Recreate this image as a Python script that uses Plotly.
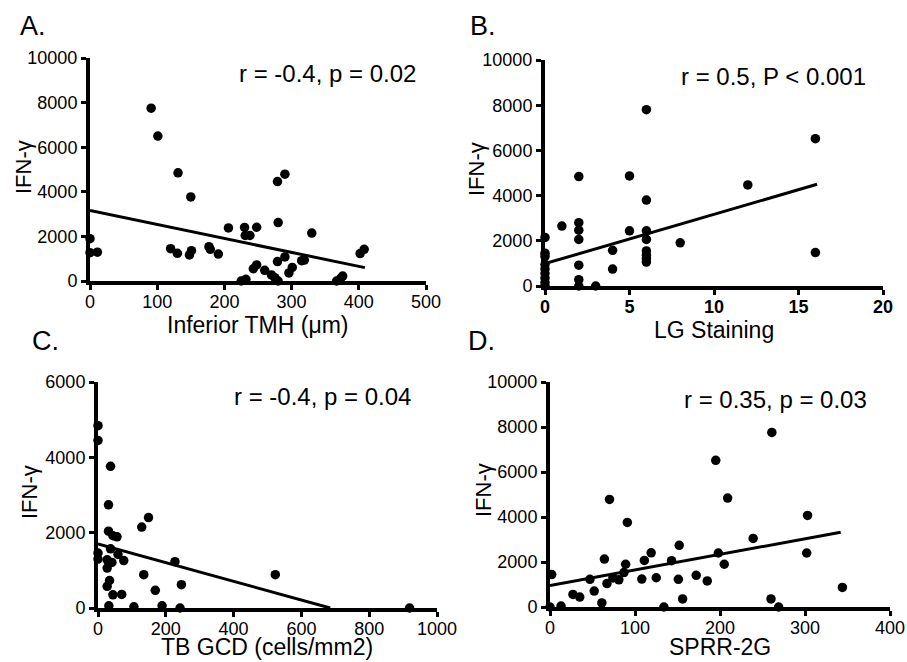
import plotly.graph_objects as go

# ---------------- data ----------------
a_x = [0, 0, 11, 91, 101, 131, 150, 120, 130, 148, 151, 177, 179, 191, 206, 230, 231, 238, 248,
       225, 232, 243, 248, 260, 270, 275, 280, 279, 280, 279, 290, 290, 296, 301, 315, 319, 330,
       367, 373, 376, 402, 408]
a_y = [1900, 1270, 1290, 7750, 6500, 4850, 3770, 1450, 1240, 1170, 1360, 1540, 1420, 1210, 2380, 2400, 2040, 2040, 2410,
       0, 75, 550, 720, 480, 270, 150, 0, 870, 2620, 4460, 4790, 1080, 360, 610, 910, 940, 2150,
       0, 120, 220, 1230, 1420]
a_fit_x = [0, 409]
a_fit_y = [3160, 600]

b_x = [0, 0, 0, 0, 0, 0, 0, 0, 0, 1, 2, 2, 2, 2, 2, 2, 2, 3, 4, 4, 5, 5,
       6, 6, 6, 6, 6, 6, 6, 6, 8, 12, 16, 16]
b_y = [2150, 1450, 1300, 950, 750, 550, 350, 150, 0, 2650, 4840, 2800, 2470, 2060, 920, 280, 0, 0, 1580, 750, 4870, 2440,
       7800, 3800, 2440, 2060, 1550, 1360, 1210, 1060, 1910, 4470, 6520, 1480]
b_fit_x = [0, 16.1]
b_fit_y = [990, 4500]

c_x = [0, 0, 0, 0, 37, 31, 31, 44, 56, 37, 59, 27, 41, 76, 27, 34, 27, 44, 70, 32, 106,
       129, 149, 135, 169, 189, 227, 246, 242, 523, 919]
c_y = [4840, 4450, 1460, 1300, 3760, 2740, 2040, 1920, 1890, 1570, 1420, 1280, 1210, 1260, 1060, 730, 575, 350, 360, 60, 30,
       2150, 2400, 885, 470, 60, 1230, 620, 0, 885, 0]
c_fit_x = [0, 685]
c_fit_y = [1700, 0]

d_x = [2, 0, 13, 27, 35, 47, 52, 61, 64, 70, 67, 74, 81, 87, 89, 91, 108, 111, 119, 125, 134,
       143, 152, 151, 156, 172, 185, 195, 198, 205, 209, 239, 261, 260, 269, 303, 302, 344]
d_y = [1440, 0, 40, 560, 440, 1230, 710, 180, 2130, 4780, 1040, 1290, 1210, 1530, 1900, 3760, 1240, 2070, 2410, 1300, 0,
       2060, 2740, 1230, 360, 1410, 1160, 6520, 2400, 1900, 4840, 3050, 7760, 360, 0, 4070, 2400, 870]
d_fit_x = [0, 342]
d_fit_y = [960, 3320]

panel_labels = ["A.", "B.", "C.", "D."]
x_titles = ["Inferior TMH (μm)", "LG Staining", "TB GCD (cells/mm2)", "SPRR-2G"]
y_title = "IFN-γ"
stats = ["r = -0.4, p = 0.02", "r = 0.5, P < 0.001", "r = -0.4, p = 0.04", "r = 0.35, p = 0.03"]
x_ranges = [[0, 500], [0, 20], [0, 1000], [0, 400]]
y_ranges = [[0, 10000], [0, 10000], [0, 6000], [0, 10000]]
x_dticks = [100, 5, 200, 100]
y_dticks = [2000, 2000, 2000, 2000]

# ---------------- figure ----------------
FONT = "Arial, 'Liberation Sans', sans-serif"
W, H = 907, 662
fig = go.Figure()

series = [(a_x, a_y, a_fit_x, a_fit_y), (b_x, b_y, b_fit_x, b_fit_y),
          (c_x, c_y, c_fit_x, c_fit_y), (d_x, d_y, d_fit_x, d_fit_y)]

# domains from pixel positions (left, right, bottom, top)
px_domains = [(90, 426, 281, 58), (545, 883, 286, 60), (98, 437, 608, 382), (550, 890, 607, 382)]

layout = dict(
    width=W, height=H, paper_bgcolor="white", plot_bgcolor="white",
    margin=dict(l=0, r=0, t=0, b=0, autoexpand=False), showlegend=False,
    font=dict(family=FONT, color="black"),
)

for i, (sx, sy, fx, fy) in enumerate(series):
    n = "" if i == 0 else str(i + 1)
    xa, ya = "x" + n, "y" + n
    fig.add_trace(go.Scatter(x=sx, y=sy, mode="markers", xaxis=xa, yaxis=ya,
                             marker=dict(color="black", size=9.5), cliponaxis=False))
    fig.add_trace(go.Scatter(x=fx, y=fy, mode="lines", xaxis=xa, yaxis=ya,
                             line=dict(color="black", width=3), cliponaxis=False))
    l, r, b, t = px_domains[i]
    tickfont_x = dict(size=18, family=FONT, color="black")
    if i == 1:
        tickfont_x["weight"] = "bold"
    layout["xaxis" + n] = dict(
        domain=[l / W, r / W], anchor=ya, range=x_ranges[i], dtick=x_dticks[i], tick0=0,
        showline=True, linecolor="black", linewidth=4, ticks="outside", ticklen=5,
        tickwidth=3, tickcolor="black", showgrid=False, zeroline=False,
        tickfont=tickfont_x, tickformat="d", ticklabelstandoff=-4,
        fixedrange=True, automargin=False,
    )
    layout["yaxis" + n] = dict(
        domain=[1 - b / H, 1 - t / H], anchor=xa, range=y_ranges[i], dtick=y_dticks[i], tick0=0,
        showline=True, linecolor="black", linewidth=4, ticks="outside", ticklen=5,
        tickwidth=3, tickcolor="black", showgrid=False, zeroline=False,
        tickfont=dict(size=18, family=FONT, color="black"), tickformat="d",
        fixedrange=True, automargin=False,
    )

# panel labels, stats, axis titles (pixel positions converted to paper coords)
label_pos = [(18, 26), (468, 26), (30, 341), (466, 341)]
stat_pos = [(418, 74), (868, 76), (413, 397), (869, 399)]
xt_pos = [(258, 325), (714, 330), (267, 647), (720, 647)]
yt_pos = [(23, 167), (477, 169), (29, 492), (483, 490)]

annotations = []
for i in range(4):
    annotations.append(dict(text=panel_labels[i], xref="paper", yref="paper",
                            x=label_pos[i][0] / W, y=1 - label_pos[i][1] / H,
                            xanchor="left", yanchor="middle", showarrow=False,
                            font=dict(size=27, family=FONT, color="black")))
    annotations.append(dict(text=stats[i], xref="paper", yref="paper",
                            x=stat_pos[i][0] / W, y=1 - stat_pos[i][1] / H,
                            xanchor="right", yanchor="middle", showarrow=False,
                            font=dict(size=24, family=FONT, color="black")))
    annotations.append(dict(text=x_titles[i], xref="paper", yref="paper",
                            x=xt_pos[i][0] / W, y=1 - xt_pos[i][1] / H,
                            xanchor="center", yanchor="middle", showarrow=False,
                            font=dict(size=23, family=FONT, color="black")))
    annotations.append(dict(text=y_title, xref="paper", yref="paper",
                            x=yt_pos[i][0] / W, y=1 - yt_pos[i][1] / H,
                            xanchor="center", yanchor="middle", showarrow=False, textangle=-90,
                            font=dict(size=22, family=FONT, color="black")))

layout["annotations"] = annotations
fig.update_layout(**layout)
fig.write_html("out.html", config={"displayModeBar": False},
               post_script="document.body.style.margin='0';")
